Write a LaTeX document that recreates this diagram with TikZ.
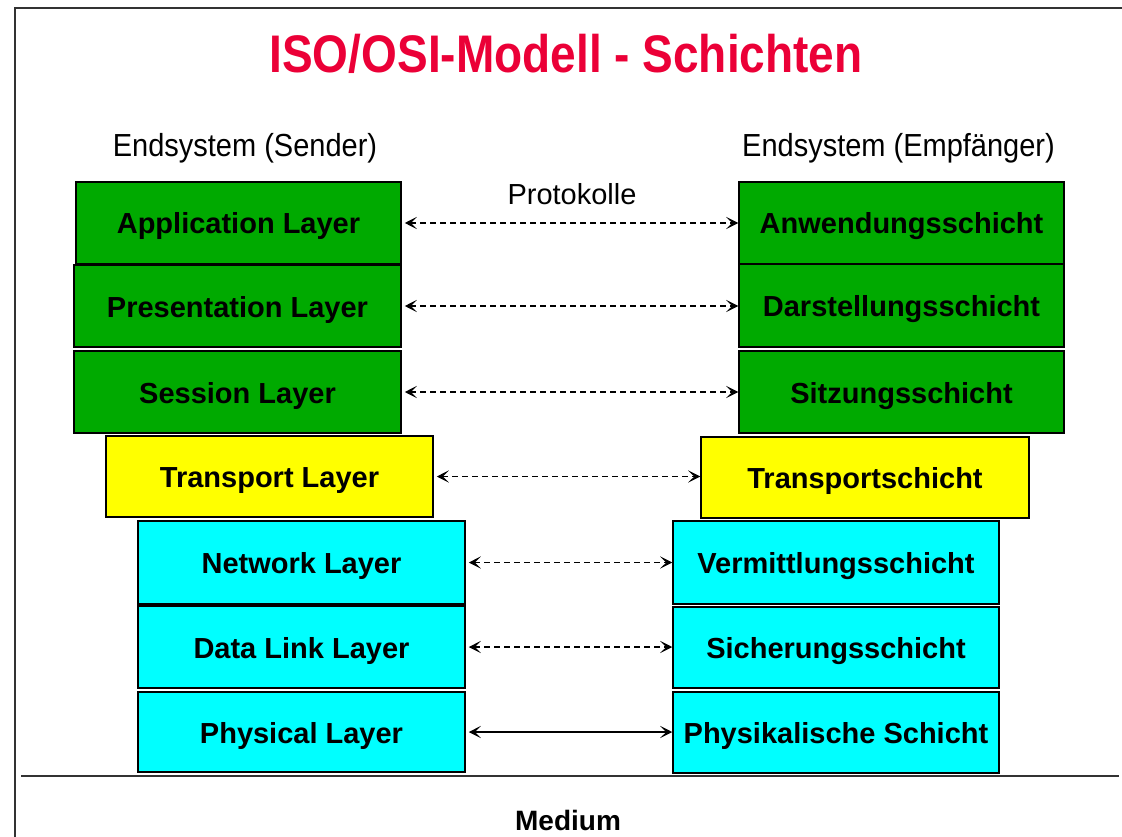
\documentclass[tikz,border=0pt]{standalone}
\usepackage{fontspec}
\setmainfont{Liberation Sans}
\usetikzlibrary{arrows.meta}
\definecolor{titlered}{RGB}{235,0,55}
\definecolor{lgreen}{RGB}{0,170,0}
\definecolor{lyellow}{RGB}{255,255,0}
\definecolor{lcyan}{RGB}{0,255,255}
\definecolor{frame}{RGB}{50,50,50}
\tikzset{
  layerbox/.style={draw=black, line width=1.5pt, rectangle, inner sep=0pt,
    text depth=0pt, text height=22pt,
    font=\fontsize{29}{33}\selectfont\bfseries},
  greenbox/.style={layerbox, fill=lgreen},
  yellowbox/.style={layerbox, fill=lyellow},
  cyanbox/.style={layerbox, fill=lcyan},
  tip/.style={Stealth[length=12pt,width=12pt,inset=6pt]},
  proto/.style={line width=1.5pt, dash pattern=on 6pt off 4pt,
    {Stealth[length=12pt,width=12pt,inset=6pt]}-{Stealth[length=12pt,width=12pt,inset=6pt]},
    shorten <=3pt},
  physarrow/.style={line width=1.5pt,
    {Stealth[length=12pt,width=12pt,inset=6pt]}-{Stealth[length=12pt,width=12pt,inset=6pt]},
    shorten <=3pt},
  plain/.style={font=\fontsize{29}{33}\selectfont},
  heading/.style={text=titlered, font=\fontsize{46}{50}\selectfont\bfseries},
  frameline/.style={draw=frame, line width=2pt}
}
\begin{document}
\begin{tikzpicture}[x=1pt,y=-1pt]
\useasboundingbox (0,0) rectangle (1122,837);
% frame
\coordinate (ftl) at (15,8);
\coordinate (ftr) at (1122,8);
\coordinate (fbl) at (15,837);
\draw[frameline] (ftr) -- (ftl) -- (fbl);
\coordinate (ml) at (21,776);
\coordinate (mr) at (1119,776);
\draw[frameline] (ml) -- (mr);
% title and headings
\node[heading, anchor=base] (title) at (566,73) {\scalebox{1}[1.15]{ISO/OSI-Modell - Schichten}};
\node[plain, anchor=base] (sender) at (245,157) {\scalebox{1}[1.1]{Endsystem (Sender)}};
\node[plain, anchor=base] (empf) at (898.5,157) {\scalebox{1}[1.1]{Endsystem (Empfänger)}};
\node[plain, anchor=base] (protokolle) at (572,205) {Protokolle};
\node[font=\fontsize{28}{32}\selectfont\bfseries, anchor=base] (medium) at (568,830) {Medium};
% left stack
\node[greenbox, minimum width=325pt, minimum height=82pt] (app) at (238.5,223) {Application Layer};
\node[greenbox, minimum width=327pt, minimum height=82pt] (pres) at (237.5,306) {Presentation Layer};
\node[greenbox, minimum width=327pt, minimum height=82pt] (sess) at (237.5,392) {Session Layer};
\node[yellowbox, minimum width=327pt, minimum height=81pt] (trans) at (269.5,476.5) {Transport Layer};
\node[cyanbox, minimum width=327pt, minimum height=83pt] (net) at (301.5,562.5) {Network Layer};
\node[cyanbox, minimum width=327pt, minimum height=82pt] (dl) at (301.5,647) {Data Link Layer};
\node[cyanbox, minimum width=327pt, minimum height=80pt] (phys) at (301.5,732) {Physical Layer};
% right stack
\node[greenbox, minimum width=325pt, minimum height=82pt] (anw) at (901.5,223) {Anwendungsschicht};
\node[greenbox, minimum width=325pt, minimum height=83pt] (dar) at (901.5,305.5) {Darstellungsschicht};
\node[greenbox, minimum width=325pt, minimum height=82pt] (sitz) at (901.5,392) {Sitzungsschicht};
\node[yellowbox, minimum width=328pt, minimum height=81pt] (trs) at (865,477.5) {Transportschicht};
\node[cyanbox, minimum width=326pt, minimum height=83pt] (ver) at (836,562.5) {Vermittlungsschicht};
\node[cyanbox, minimum width=326pt, minimum height=81pt] (sic) at (836,647.5) {Sicherungsschicht};
\node[cyanbox, minimum width=326pt, minimum height=81pt] (phy) at (836,732.5) {Physikalische Schicht};
% connectors
\draw[proto] (app.east) -- (app.east -| anw.west);
\draw[proto] (pres.east) -- (pres.east -| dar.west);
\draw[proto] (sess.east) -- (sess.east -| sitz.west);
\draw[proto] (trans.east) -- (trans.east -| trs.west);
\draw[proto] (net.east) -- (net.east -| ver.west);
\draw[proto] (dl.east) -- (dl.east -| sic.west);
\draw[physarrow] (phys.east) -- (phys.east -| phy.west);
\end{tikzpicture}
\end{document}
